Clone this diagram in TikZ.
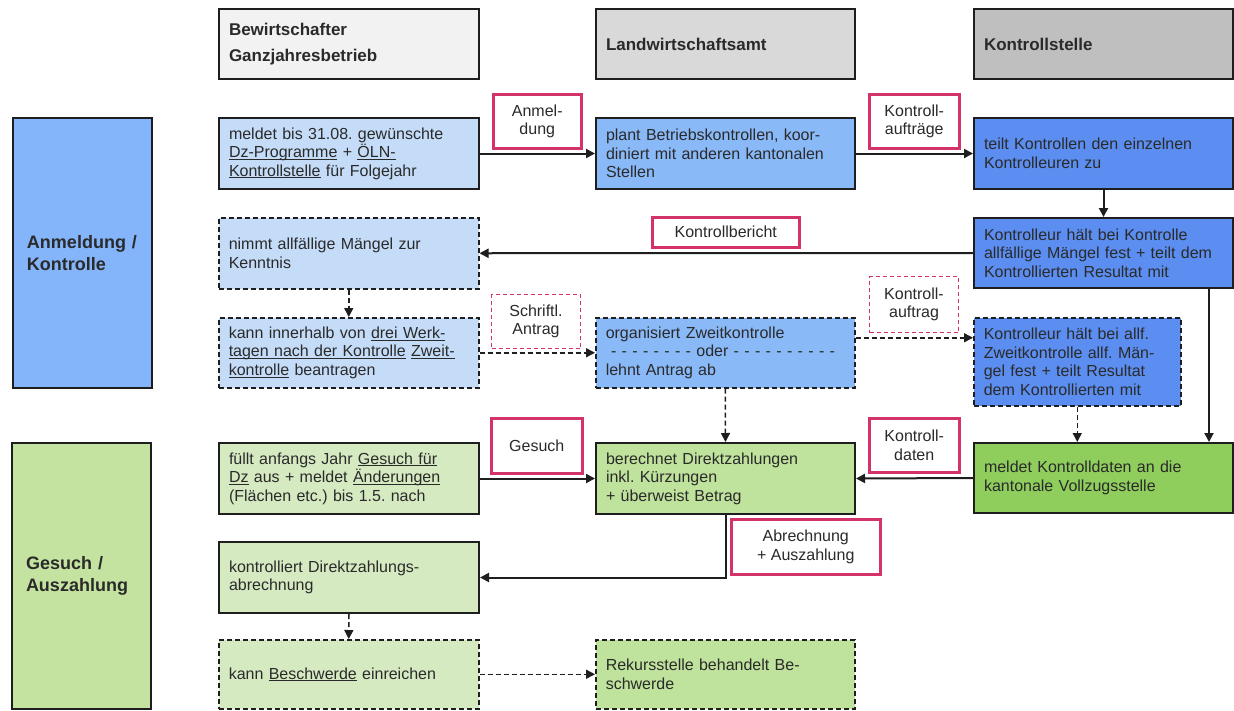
\documentclass[tikz,border=0pt]{standalone}
\usepackage{fontspec}
\setmainfont{Liberation Sans}
\usetikzlibrary{arrows.meta}
\frenchspacing
\newcommand\myul[1]{\underline{\smash{#1}}}
\definecolor{txt}{HTML}{2A2A2A}
\definecolor{bd}{HTML}{1E1E1E}
\definecolor{mag}{HTML}{D4336A}
\definecolor{hA}{HTML}{F2F2F2}
\definecolor{hB}{HTML}{D9D9D9}
\definecolor{hC}{HTML}{BFBFBF}
\definecolor{lBlue}{HTML}{84B4FA}
\definecolor{aBlue}{HTML}{C5DCF8}
\definecolor{bBlue}{HTML}{8AB9F8}
\definecolor{cBlue}{HTML}{5B8EF0}
\definecolor{lGreen}{HTML}{C5E3A0}
\definecolor{aGreen}{HTML}{D6EAC2}
\definecolor{bGreen}{HTML}{BFE29C}
\definecolor{cGreen}{HTML}{8FCD5D}
\tikzset{
  base/.style={anchor=north west, inner xsep=10pt, inner ysep=0pt, align=left, text=txt, draw=bd, line width=2pt},
  solidbox/.style={base},
  dashbox/.style={base, line width=1.5pt, dash pattern=on 5pt off 3pt},
  headbox/.style={base, font=\fontsize{17}{26}\selectfont\bfseries},
  sidebox/.style={base, inner xsep=14pt, font=\fontsize{18}{22}\selectfont\bfseries},
  tag/.style={anchor=north west, draw=mag, line width=2.5pt, fill=white, align=center, inner sep=0pt, text=txt},
  dtag/.style={tag, line width=1pt, dash pattern=on 4pt off 3pt},
  arr/.style={line width=2pt, draw=bd, -{Triangle[length=9pt,width=9pt]}},
  darr/.style={line width=1.5pt, draw=bd, dash pattern=on 5pt off 3pt, -{Triangle[length=9pt,width=9pt]}},
}
\begin{document}
\begin{tikzpicture}[x=1pt,y=-1pt, font=\fontsize{16}{18.5}\selectfont]
\useasboundingbox (0,0) rectangle (1234,710);
\fill[white] (0,0) rectangle (1234,710);

% headers
\node[headbox, fill=hA, minimum width=260pt, minimum height=70pt, text width=240pt] (H1) at (218,8) {Bewirtschafter\\Ganzjahresbetrieb};
\node[headbox, fill=hB, minimum width=259pt, minimum height=70pt, text width=239pt] (H2) at (595,8) {Landwirtschaftsamt};
\node[headbox, fill=hC, minimum width=259pt, minimum height=70pt, text width=239pt] (H3) at (973,8) {Kontrollstelle};

% side boxes
\node[sidebox, fill=lBlue, minimum width=139pt, minimum height=270pt, text width=111pt] (S1) at (12,117) {Anmeldung /\\Kontrolle};
\node[sidebox, fill=lGreen, minimum width=139pt, minimum height=266pt, text width=111pt] (S2) at (11,442) {Gesuch /\\Auszahlung};

% row 1
\node[solidbox, fill=aBlue, minimum width=260pt, minimum height=71pt, text width=240pt] (A1) at (218,117)
  {meldet bis 31.08. gewünschte\\\myul{Dz-Programme} + \myul{ÖLN-}\\\myul{Kontrollstelle} für Folgejahr};
\node[solidbox, fill=bBlue, minimum width=259pt, minimum height=71pt, text width=239pt] (B1) at (595,117)
  {plant Betriebskontrollen, koor-\\diniert mit anderen kantonalen\\Stellen};
\node[solidbox, fill=cBlue, minimum width=259pt, minimum height=71pt, text width=239pt] (C1) at (973,117)
  {teilt Kontrollen den einzelnen\\Kontrolleuren zu};

% row 2
\node[dashbox, fill=aBlue, minimum width=260pt, minimum height=71pt, text width=240pt] (A2) at (218,217)
  {nimmt allfällige Mängel zur\\Kenntnis};
\node[solidbox, fill=cBlue, minimum width=259pt, minimum height=70pt, text width=239pt] (C2) at (973,217)
  {Kontrolleur hält bei Kontrolle\\allfällige Mängel fest + teilt dem\\Kontrollierten Resultat mit};

% row 3
\node[dashbox, fill=aBlue, minimum width=260pt, minimum height=70pt, text width=240pt] (A3) at (218,317)
  {kann innerhalb von \myul{drei Werk-}\\\myul{tagen nach der Kontrolle} \myul{Zweit-}\\\myul{kontrolle} beantragen};
\node[dashbox, fill=bBlue, minimum width=259pt, minimum height=70pt, text width=239pt] (B3) at (595,317)
  {organisiert Zweitkontrolle\\\ - - - - - - - - oder - - - - - - - - - -\\lehnt Antrag ab};
\node[dashbox, fill=cBlue, minimum width=207pt, minimum height=88pt, text width=187pt] (C3) at (973,317)
  {Kontrolleur hält bei allf.\\Zweitkontrolle allf. Män-\\gel fest + teilt Resultat\\dem Kontrollierten mit};

% row 4
\node[solidbox, fill=aGreen, minimum width=260pt, minimum height=71pt, text width=240pt] (A4) at (218,442)
  {füllt anfangs Jahr \myul{Gesuch für}\\\myul{Dz} aus + meldet \myul{Änderungen}\\(Flächen etc.) bis 1.5. nach};
\node[solidbox, fill=bGreen, minimum width=259pt, minimum height=71pt, text width=239pt] (B4) at (595,442)
  {berechnet Direktzahlungen\\inkl. Kürzungen\\+ überweist Betrag};
\node[solidbox, fill=cGreen, minimum width=259pt, minimum height=70pt, text width=239pt] (C4) at (973,442)
  {meldet Kontrolldaten an die\\kantonale Vollzugsstelle};

% row 5
\node[solidbox, fill=aGreen, minimum width=260pt, minimum height=71pt, text width=240pt] (A5) at (218,541)
  {kontrolliert Direktzahlungs-\\abrechnung};

% row 6
\node[dashbox, fill=aGreen, minimum width=260pt, minimum height=69pt, text width=240pt] (A6) at (218,639)
  {kann \myul{Beschwerde} einreichen};
\node[dashbox, fill=bGreen, minimum width=259pt, minimum height=69pt, text width=239pt] (B6) at (595,639)
  {Rekursstelle behandelt Be-\\schwerde};

% connectors
\draw[arr] (A1.east) -- (B1.west);
\draw[arr] (B1.east) -- (C1.west);
\draw[arr] (C1.south) -- (C2.north);
\draw[arr] (C2.west) -- (A2.east);
\draw[darr] (A2.south) -- (A3.north);
\draw[darr] (A3.east) -- (B3.west);
\draw[darr] ([yshift=15pt]B3.east) coordinate (t1) -- (t1 -| C3.west);
\draw[darr] (B3.south) -- (B4.north);
\draw[darr] (C3.south) -- (C3.south |- C4.north);
\draw[arr] ([xshift=-25pt]C2.south east) -- ([xshift=-25pt]C4.north east);
\draw[arr] (A4.east) -- (B4.west);
\draw[arr] (C4.west) -- (B4.east);
\draw[arr] (B4.south) |- (A5.east);
\draw[darr] (A5.south) -- (A6.north);
\draw[darr] (A6.east) -- (B6.west);

% tags
\node[tag, minimum width=88pt, minimum height=54pt] (T1) at (492,93) {Anmel-\\dung};
\node[tag, minimum width=90pt, minimum height=54pt] (T2) at (868,93) {Kontroll-\\aufträge};
\node[tag, minimum width=147pt, minimum height=30pt] (T3) at (651,216) {Kontrollbericht};
\node[dtag, minimum width=89pt, minimum height=54pt] (T4) at (491,294) {Schriftl.\\Antrag};
\node[dtag, minimum width=89pt, minimum height=56pt] (T5) at (869,276) {Kontroll-\\auftrag};
\node[tag, minimum width=91pt, minimum height=55pt] (T6) at (490,417) {Gesuch};
\node[tag, minimum width=90pt, minimum height=54pt] (T7) at (868,417) {Kontroll-\\daten};
\node[tag, minimum width=149pt, minimum height=55pt] (T8) at (730,518) {Abrechnung\\+ Auszahlung};
\end{tikzpicture}
\end{document}
